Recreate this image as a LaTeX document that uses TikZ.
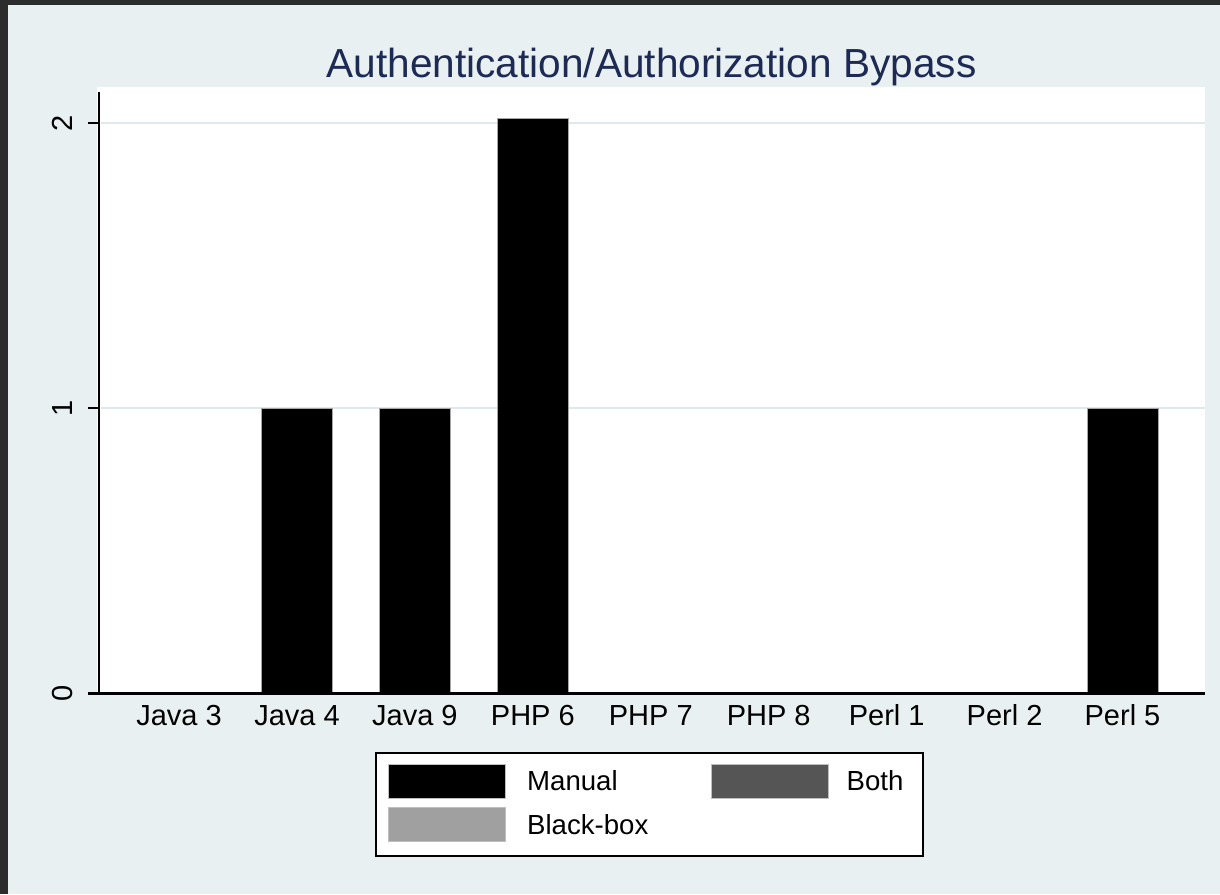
\documentclass[tikz,border=0pt]{standalone}
\usepackage{fontspec}
\setmainfont{Liberation Sans}
\usepackage{tikz}
\usetikzlibrary{positioning}

\definecolor{stbg}{RGB}{232,240,242}
\definecolor{stgrid}{RGB}{222,233,236}
\definecolor{sttitle}{RGB}{28,42,84}
\definecolor{stframe}{RGB}{44,44,44}
\definecolor{stboth}{RGB}{85,85,85}
\definecolor{stbbox}{RGB}{160,160,160}

\begin{document}
\begin{tikzpicture}[
    x = 0.5pt,
    y = -0.5pt,
    font = \fontsize{14.5}{17}\selectfont,
    axis/.style = {
      draw=black,
      line width=1.4pt
    },
    gridline/.style = {
      draw=stgrid,
      line width=1pt
    },
    bar/.style = {
      fill=black,
      draw=gray!70,
      line width=0.4pt
    },
    catlabel/.style = {
      anchor=base,
      inner sep=0pt
    },
    ticklabel/.style = {
      rotate=90,
      anchor=base,
      inner sep=0pt
    },
    swatch/.style = {
      rectangle,
      draw=gray!50,
      line width=0.3pt,
      minimum width=58.5pt,
      minimum height=17pt,
      inner sep=0pt
    },
    legtext/.style = {
      inner sep=0pt,
      font=\fontsize{13.8}{16}\selectfont
    }
  ]
    \useasboundingbox (0,0) rectangle (1220,894);
    \fill[stbg] (0,0) rectangle (1220,894);
    \fill[stframe] (0,0) rectangle (1220,5);
    \fill[stframe] (0,0) rectangle (8,894);

    \node[anchor=base, inner sep=0pt, text=sttitle, font=\fontsize{20.3}{24}\selectfont] (title) at (651.5,77) {Authentication/Authorization Bypass};

    \fill[white] (97,87) rectangle (1205,693);
    \draw[gridline] (101,123) -- (1205,123);
    \draw[gridline] (101,408) -- (1205,408);

    \foreach \lbl/\top [count=\i from 0] in {Java 3/693, Java 4/408, Java 9/408, PHP 6/118, PHP 7/693, PHP 8/693, Perl 1/693, Perl 2/693, Perl 5/408} {
      \pgfmathsetmacro\cx{179.07+117.93*\i}
      \ifdim\top pt<693pt
        \path[bar] (\cx-35.4,693) rectangle (\cx+35.4,\top);
      \fi
      \node[catlabel] (cat\i) at (\cx,725) {\lbl};
    }

    \draw[axis] (99,92) -- (99,693.5) -- (1205,693.5);
    \foreach \v/\yy in {0/693.5, 1/408, 2/123} {
      \draw[axis] (88,\yy) -- (99,\yy);
      \node[ticklabel] (ytick\v) at (72,\yy) {\v};
    }

    \draw[axis, fill=white] (376,753) rectangle (923,856);
    \node[swatch, fill=black] (swmanual) at (447,781) {};
    \node[swatch, fill=stboth] (swboth) at (769.5,781) {};
    \node[swatch, fill=stbbox] (swblackbox) at (447,824.5) {};
    \node[legtext] (txmanual) [right=10.5pt of swmanual] {Manual};
    \node[legtext] (txboth) [right=9pt of swboth] {Both};
    \node[legtext] (txblackbox) [right=10.5pt of swblackbox] {Black-box};
  \end{tikzpicture}
\end{document}
